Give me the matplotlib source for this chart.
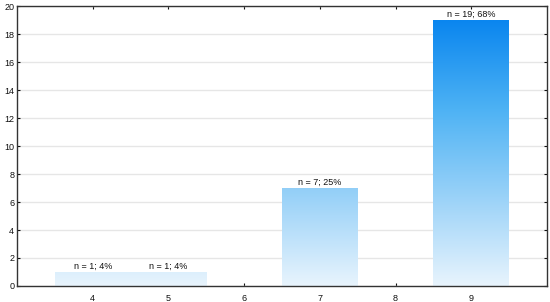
import numpy as np
import matplotlib.pyplot as plt
from matplotlib.colors import LinearSegmentedColormap
from matplotlib.patches import Rectangle

plt.rcParams['font.family'] = ['Liberation Sans', 'DejaVu Sans']

# data
categories = [4, 5, 6, 7, 8, 9]
counts = [1, 1, 0, 7, 0, 19]
labels = ["n = 1; 4%", "n = 1; 4%", "", "n = 7; 25%", "", "n = 19; 68%"]

fig = plt.figure(figsize=(5.5, 3.02), dpi=100)
ax = fig.add_axes([0.031, 0.053, 0.9636, 0.927])

ax.set_xlim(3, 10)
ax.set_ylim(0, 20)
ax.set_xticks(categories)
ax.set_yticks(range(0, 21, 2))
ax.yaxis.grid(True, color="#e6e6e6", linewidth=1.0)
ax.set_axisbelow(True)

# vertical gradient shared by all bars (darker the higher the value)
cmap = LinearSegmentedColormap.from_list(
    "grad", ["#e8f4fd", "#9ad2f8", "#4db2f4", "#0a86ef"])
grad = np.linspace(0, 1, 256).reshape(-1, 1)

for x, c, lab in zip(categories, counts, labels):
    if c <= 0:
        continue
    rect = Rectangle((x - 0.5, 0), 1.0, c, facecolor="none", edgecolor="none")
    ax.add_patch(rect)
    im = ax.imshow(grad, cmap=cmap, origin="lower", aspect="auto",
                   extent=(x - 0.5, x + 0.5, 0, 19), vmin=0, vmax=1,
                   interpolation="bilinear", zorder=2)
    im.set_clip_path(rect)
    ax.text(x, c + 0.12, lab, ha="center", va="bottom", fontsize=6.5,
            color="#111111", zorder=3)

ax.set_xlim(3, 10)
ax.set_ylim(0, 20)

for s in ax.spines.values():
    s.set_color("#333333")
    s.set_linewidth(1.0)

ax.tick_params(axis="both", labelsize=6.5, colors="#111111", length=2,
               direction="in", top=True, right=True, width=0.8)
ax.tick_params(axis="x", pad=6)
ax.tick_params(axis="y", pad=2)

fig.savefig("out.png", dpi=100)
